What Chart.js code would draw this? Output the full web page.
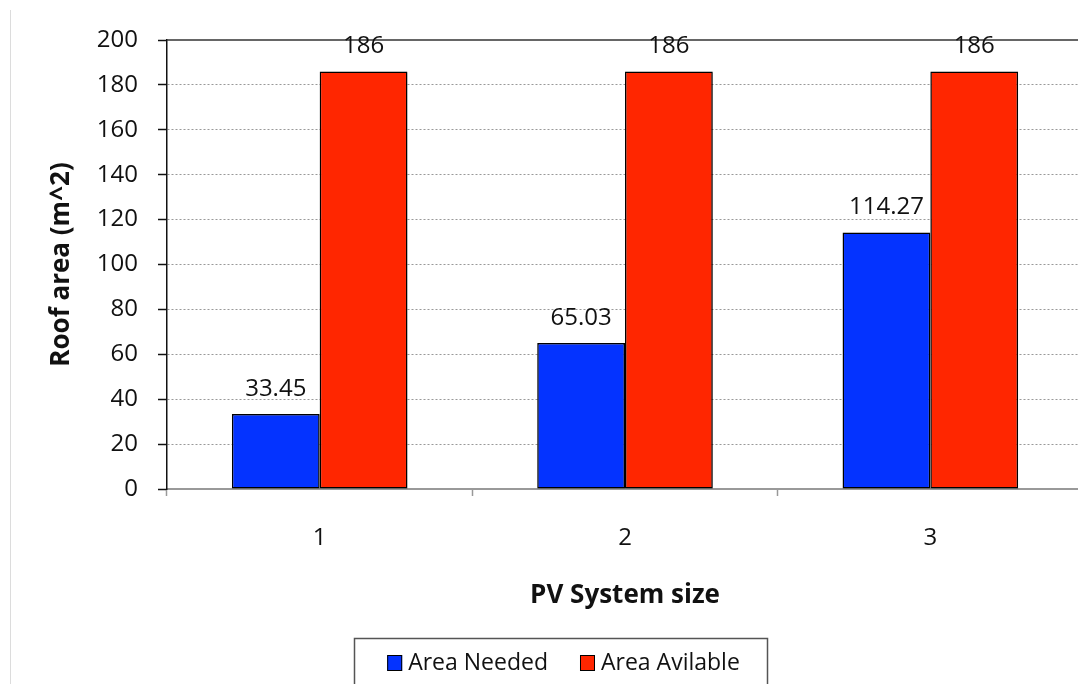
<!DOCTYPE html>
<html>
<head>
<meta charset="utf-8">
<script src="https://cdn.jsdelivr.net/npm/chart.js@4/dist/chart.umd.min.js"></script>
<style>
html,body{margin:0;padding:0;background:#fff;overflow:hidden;}
#wrap{position:relative;width:1090px;height:684px;}
</style>
</head>
<body>
<div id="wrap"><canvas id="c"></canvas></div>
<script>
const categories = ['1', '2', '3'];
const areaNeeded = [33.45, 65.03, 114.27];
const areaAvailable = [186, 186, 186];
const seriesNames = ['Area Needed', 'Area Avilable'];
const seriesColors = ['#0433FF', '#FF2600'];
const yTicks = [0, 20, 40, 60, 80, 100, 120, 140, 160, 180, 200];
const yTitle = 'Roof area (m^2)';
const xTitle = 'PV System size';

const FONT = "'Open Sans', sans-serif";

const decor = {
  id: 'decor',
  beforeDraw(chart) {
    const ctx = chart.ctx;
    ctx.save();
    ctx.strokeStyle = '#dcdcdc';
    ctx.lineWidth = 1;
    ctx.beginPath();
    ctx.moveTo(10.5, 10);
    ctx.lineTo(10.5, 684);
    ctx.stroke();
    ctx.restore();
  },
  beforeDatasetsDraw(chart) {
    const ctx = chart.ctx;
    const y = chart.scales.y;
    const top = y.getPixelForValue(200);
    ctx.save();
    ctx.strokeStyle = '#333';
    ctx.lineWidth = 1.5;
    ctx.beginPath();
    ctx.moveTo(chart.chartArea.left, top);
    ctx.lineTo(chart.chartArea.right, top);
    ctx.stroke();
    ctx.restore();
    ctx.save();
    ctx.shadowColor = 'rgba(0,0,0,0.25)';
    ctx.shadowBlur = 2;
    ctx.shadowOffsetX = 1;
    ctx.shadowOffsetY = 1;
  },
  afterDatasetsDraw(chart) {
    const ctx = chart.ctx;
    ctx.restore();
    ctx.save();
    ctx.fillStyle = '#111';
    ctx.font = '24px ' + FONT;
    ctx.textAlign = 'center';
    ctx.textBaseline = 'middle';
    chart.data.datasets.forEach((ds, di) => {
      const meta = chart.getDatasetMeta(di);
      meta.data.forEach((bar, i) => {
        ctx.fillText(String(ds.data[i]), bar.x, bar.y - 25);
      });
    });
    ctx.restore();
  },
  afterDraw(chart) {
    const ctx = chart.ctx;
    ctx.save();
    // legend box
    const bx = 354, by = 638, bw = 413, bh = 60;
    ctx.fillStyle = '#fff';
    ctx.fillRect(bx, by, bw, bh);
    ctx.strokeStyle = '#555';
    ctx.lineWidth = 1.5;
    ctx.strokeRect(bx + 0.5, by + 0.5, bw, bh);
    ctx.font = '23px ' + FONT;
    ctx.textBaseline = 'middle';
    ctx.textAlign = 'left';
    const sw = 15, gap = 6, itemGap = 32;
    const items = chart.data.datasets.map(d => ({label: d.label, color: d.backgroundColor, w: ctx.measureText(d.label).width}));
    let total = 0;
    items.forEach((it, i) => { total += sw + gap + it.w + (i ? itemGap : 0); });
    let x = bx + bw / 2 - total / 2 + 3;
    const cy = 663;
    items.forEach((it, i) => {
      if (i) x += itemGap;
      ctx.fillStyle = it.color;
      ctx.fillRect(x, cy - 8, sw, 16);
      ctx.strokeStyle = '#000';
      ctx.lineWidth = 1;
      ctx.strokeRect(x + 0.5, cy - 7.5, sw - 1, 15);
      x += sw + gap;
      ctx.fillStyle = '#111';
      ctx.fillText(it.label, x, cy);
      x += it.w;
    });
    ctx.restore();
  }
};

new Chart(document.getElementById('c'), {
  type: 'bar',
  data: {
    labels: categories,
    datasets: [
      {label: seriesNames[0], data: areaNeeded, backgroundColor: seriesColors[0], borderColor: '#000', borderWidth: 1.5, borderSkipped: false},
      {label: seriesNames[1], data: areaAvailable, backgroundColor: seriesColors[1], borderColor: '#000', borderWidth: 1.5, borderSkipped: false}
    ]
  },
  options: {
    responsive: true,
    maintainAspectRatio: false,
    animation: false,
    events: [],
    layout: {padding: {left: 10, right: 7, top: 40, bottom: 0}},
    datasets: {bar: {categoryPercentage: 0.575, barPercentage: 1}},
    plugins: {legend: {display: false}, tooltip: {enabled: false}},
    scales: {
      x: {
        grid: {offset: true, drawOnChartArea: false, tickLength: 7, tickColor: '#999', tickWidth: 1.5},
        border: {color: '#999', width: 2},
        ticks: {color: '#111', font: {family: FONT, size: 24}, padding: 28},
        title: {display: true, text: xTitle, color: '#111', font: {family: FONT, size: 26, weight: 'bold'}, padding: {top: 0, bottom: 73}},
        afterFit(s) { s.height = 195; }
      },
      y: {
        min: 0, max: 200,
        afterBuildTicks(s) { s.ticks = yTicks.map(v => ({value: v})); },
        grid: {color: (c) => c.tick && c.tick.value === 200 ? 'rgba(0,0,0,0)' : '#999', lineWidth: 1, tickLength: 9, tickColor: '#111', tickWidth: 1.5},
        border: {color: '#111', width: 1.5, dash: [2, 2]},
        ticks: {color: '#111', font: {family: FONT, size: 24}, padding: 20},
        title: {display: true, text: yTitle, color: '#111', font: {family: FONT, size: 26, weight: 'bold'}, padding: {top: 36, bottom: 0}},
        afterFit(s) { s.width = 157; }
      }
    }
  },
  plugins: [decor]
});
</script>
</body>
</html>
